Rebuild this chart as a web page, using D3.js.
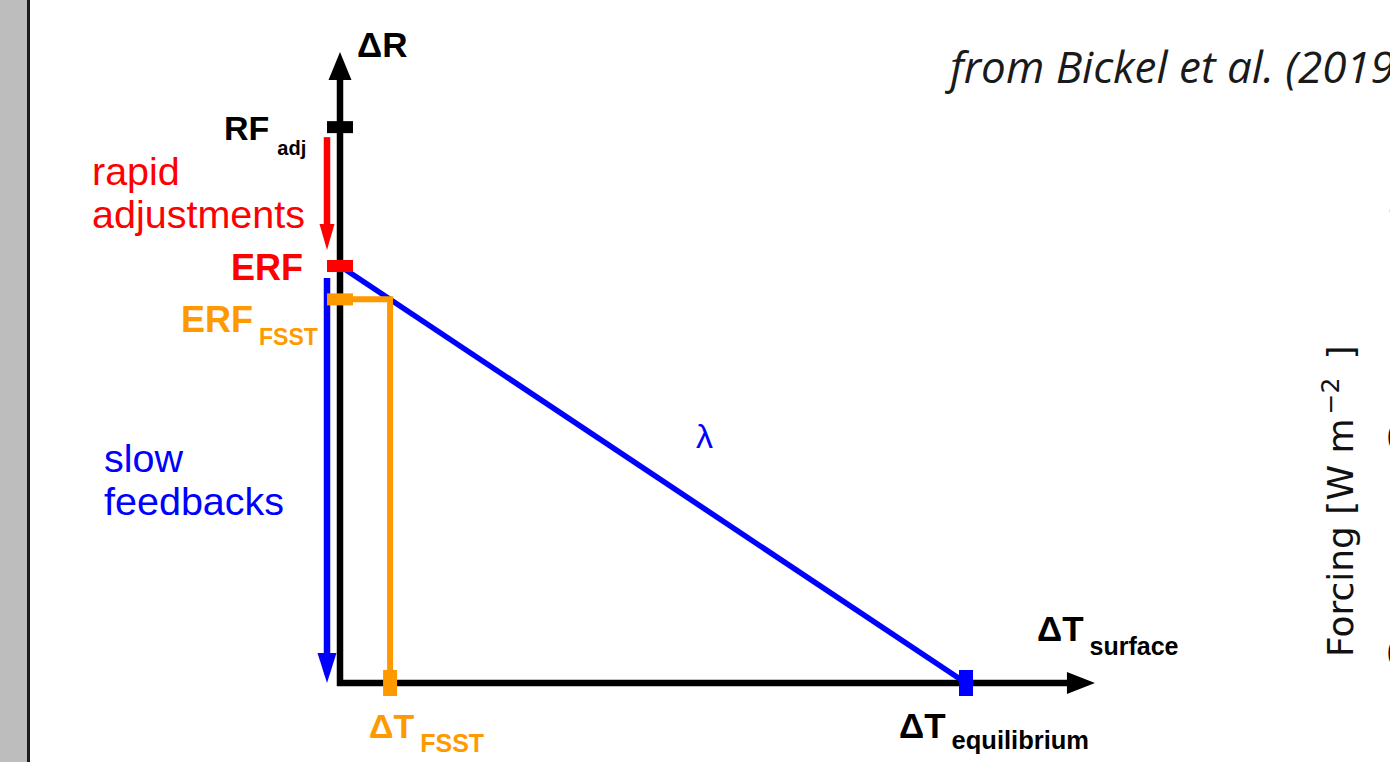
<!DOCTYPE html>
<html>
<head>
<meta charset="utf-8">
<script src="https://cdn.jsdelivr.net/npm/d3@7"></script>
<style>
  body { margin: 0; background: #fff; }
  svg { display: block; }
</style>
</head>
<body>
<div id="chart"></div>
<script>
// Schematic of forcing vs surface temperature response (ERF / FSST / equilibrium)

// temperature points on the x axis (relative to equilibrium warming)
const tempNames = ["FSST", "equilibrium"];
const tempValues = [0.08, 1.0];

// forcing levels on the y axis (relative to ERF)
const forcingNames = ["RF_adj", "ERF", "ERF_FSST"];
const forcingValues = [1.333, 1.0, 0.92];

// axis extents (arrow tips)
const xAxisMax = 1.206;
const yAxisMax = 1.513;

// tick labels of the neighbouring (cropped) panel
const rightTickValues = [1.0, 0.5, 0.0];
const rightTickLabels = ["1.0", "0.5", "0.0"];

const width = 1390, height = 762;
const RED = "#ff0000", BLUE = "#0000ff", ORANGE = "#ff9900";
const SANS = "'Liberation Sans', Arial, sans-serif";

const svg = d3.select("#chart").append("svg")
  .attr("width", width)
  .attr("height", height);

// page edge on the left
svg.append("rect").attr("x", 0).attr("y", 0).attr("width", 27).attr("height", height).attr("fill", "#bdbdbd");
svg.append("rect").attr("x", 27).attr("y", 0).attr("width", 3).attr("height", height).attr("fill", "#1e1e1e");

const x = d3.scaleLinear().domain([0, 1]).range([340, 966]);
const y = d3.scaleLinear().domain([0, 1]).range([683, 266]);

const forcing = Object.fromEntries(forcingNames.map((n, i) => [n, forcingValues[i]]));
const temp = Object.fromEntries(tempNames.map((n, i) => [n, tempValues[i]]));

const x0 = x(0), y0 = y(0);

// axes
svg.append("line")
  .attr("x1", x0).attr("x2", x0)
  .attr("y1", y0 + 3).attr("y2", y(yAxisMax) + 26)
  .attr("stroke", "#000").attr("stroke-width", 6.5);
svg.append("path")
  .attr("d", `M${x0},${y(yAxisMax)} L${x0 + 11.5},${y(yAxisMax) + 28} L${x0 - 11.5},${y(yAxisMax) + 28}Z`)
  .attr("fill", "#000");

svg.append("line")
  .attr("x1", x0 - 3).attr("x2", x(xAxisMax) - 26)
  .attr("y1", y0).attr("y2", y0)
  .attr("stroke", "#000").attr("stroke-width", 6.5);
svg.append("path")
  .attr("d", `M${x(xAxisMax)},${y0} L${x(xAxisMax) - 28},${y0 - 11} L${x(xAxisMax) - 28},${y0 + 11}Z`)
  .attr("fill", "#000");

// lambda line: from ERF down to equilibrium warming
svg.append("line")
  .attr("x1", x0).attr("y1", y(forcing.ERF))
  .attr("x2", x(temp.equilibrium)).attr("y2", y0)
  .attr("stroke", BLUE).attr("stroke-width", 5.5);

// FSST construction lines
svg.append("path")
  .attr("d", d3.line()([
    [x0, y(forcing.ERF_FSST)],
    [x(temp.FSST), y(forcing.ERF_FSST)],
    [x(temp.FSST), y0]
  ]))
  .attr("fill", "none").attr("stroke", ORANGE).attr("stroke-width", 6);

// vertical arrows left of the y axis
function downArrow(yStart, yTip, color, headLen, headHalf) {
  const ax = x0 - 13;
  svg.append("line")
    .attr("x1", ax).attr("x2", ax)
    .attr("y1", yStart).attr("y2", yTip - headLen + 2)
    .attr("stroke", color).attr("stroke-width", 6.5);
  svg.append("path")
    .attr("d", `M${ax},${yTip} L${ax - headHalf},${yTip - headLen} L${ax + headHalf},${yTip - headLen}Z`)
    .attr("fill", color);
}
downArrow(y(forcing.RF_adj) + 10, y(forcing.ERF) - 16, RED, 26, 7.5);
downArrow(y(forcing.ERF) + 12, y0, BLUE, 30, 9.5);

// ticks on the y axis
const yTickColors = { RF_adj: "#000", ERF: RED, ERF_FSST: ORANGE };
svg.selectAll(".ytick")
  .data(forcingNames)
  .enter().append("rect")
    .attr("class", "ytick")
    .attr("x", x0 - 13).attr("width", 26)
    .attr("y", d => y(forcing[d]) - 6).attr("height", 12)
    .attr("fill", d => yTickColors[d]);

// ticks on the x axis
const xTickColors = { FSST: ORANGE, equilibrium: BLUE };
svg.selectAll(".xtick")
  .data(tempNames)
  .enter().append("rect")
    .attr("class", "xtick")
    .attr("x", d => x(temp[d]) - 7).attr("width", 14)
    .attr("y", y0 - 13).attr("height", 26)
    .attr("fill", d => xTickColors[d]);

// labels
function label(tx, ty, main, sub, opts) {
  const t = svg.append("text")
    .attr("x", tx).attr("y", ty)
    .attr("font-family", SANS)
    .attr("font-weight", opts.weight || "bold")
    .attr("font-size", opts.size)
    .attr("fill", opts.color || "#000")
    .text(main);
  if (sub) {
    t.append("tspan")
      .attr("dx", opts.subDx || 4)
      .attr("dy", opts.subDy)
      .attr("font-size", opts.subSize)
      .text(sub);
  }
  return t;
}

label(357, 57, "ΔR", null, { size: 35 });
label(224, 140, "RF", "adj", { size: 34, subSize: 20, subDy: 15, subDx: 8 });
label(231, 280, "ERF", null, { size: 36, color: RED });
label(181, 332, "ERF", "FSST", { size: 36, color: ORANGE, subSize: 23, subDy: 13, subDx: 6 });
label(369, 738, "ΔT", "FSST", { size: 34, color: ORANGE, subSize: 25, subDy: 14, subDx: 6 });
label(1037, 641, "ΔT", "surface", { size: 35, subSize: 25, subDy: 14, subDx: 6 });
label(899, 738, "ΔT", "equilibrium", { size: 35, subSize: 25.5, subDy: 11, subDx: 6 });

label(92, 185, "rapid", null, { size: 39.5, weight: "normal", color: RED });
label(92, 228, "adjustments", null, { size: 39.5, weight: "normal", color: RED });
label(104, 472, "slow", null, { size: 39.5, weight: "normal", color: BLUE });
label(104, 515, "feedbacks", null, { size: 39.5, weight: "normal", color: BLUE });
label(696, 448, "λ", null, { size: 34, weight: "normal", color: BLUE });

// source note
svg.append("text")
  .attr("x", 950).attr("y", 83)
  .attr("font-family", "'Open Sans', sans-serif")
  .attr("font-style", "italic")
  .attr("font-size", 44)
  .attr("fill", "#1a1a1a")
  .text("from Bickel et al. (2019)");

// cropped neighbouring panel: y-axis title and tick labels
const yR = d3.scaleLinear().domain([0, 1]).range([653, 221]);
const PANEL_FONT = "'DejaVu Sans', sans-serif";

const title = svg.append("text")
  .attr("transform", "translate(1353,657) rotate(-90)")
  .attr("font-family", PANEL_FONT)
  .attr("font-size", 36)
  .attr("fill", "#111");
title.append("tspan").text("Forcing [W m");
title.append("tspan").attr("dy", -14).attr("dx", 4).attr("font-size", 25).text("−2");
title.append("tspan").attr("dy", 14).attr("dx", 18).text("]");

svg.selectAll(".rtick")
  .data(rightTickValues)
  .enter().append("text")
    .attr("class", "rtick")
    .attr("x", 1386)
    .attr("y", d => yR(d) + 13)
    .attr("font-family", PANEL_FONT)
    .attr("font-size", 36)
    .attr("fill", "#111")
    .text((d, i) => rightTickLabels[i]);
</script>
</body>
</html>
